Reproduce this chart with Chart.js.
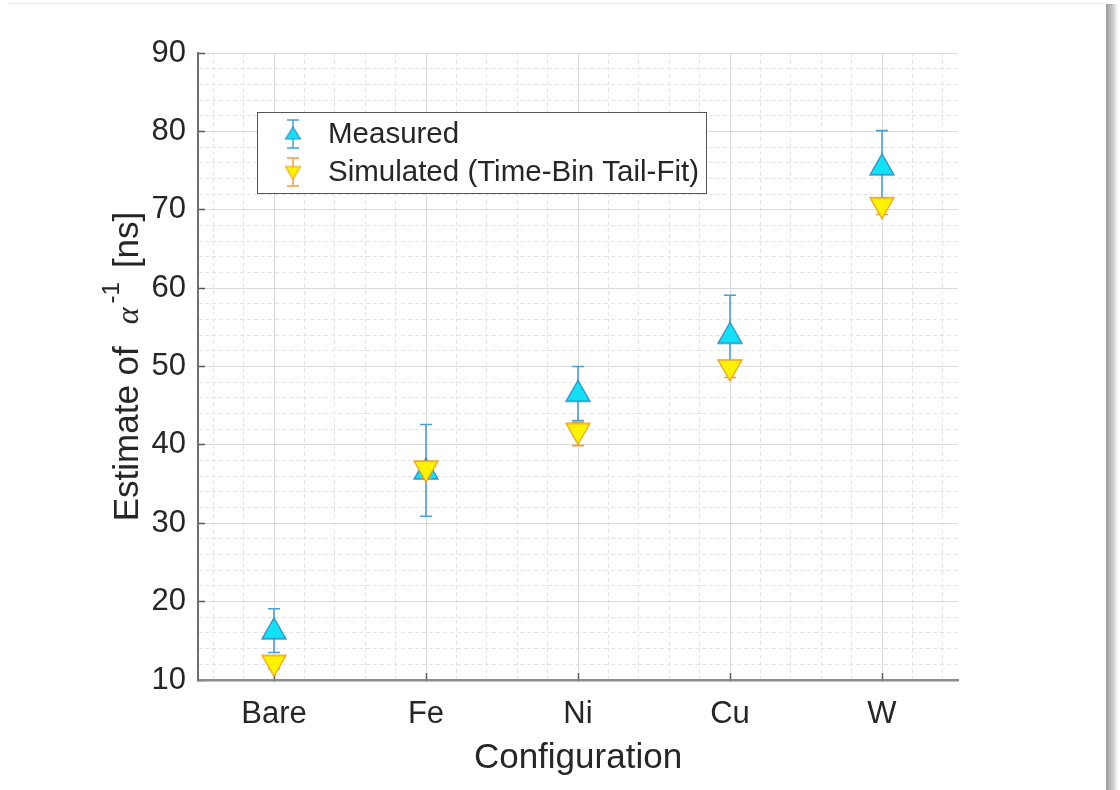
<!DOCTYPE html>
<html>
<head>
<meta charset="utf-8">
<script src="https://cdn.jsdelivr.net/npm/chart.js@4.4.1/dist/chart.umd.min.js"></script>
<style>
    html, body { margin: 0; padding: 0; background: #fff; }
    #wrap { position: relative; width: 1120px; height: 790px; overflow: hidden; }
    #topline { position: absolute; left: 8px; top: 3px; width: 1098px; height: 1px; background: #ececec; }
    #shadow { position: absolute; left: 1106px; top: 4px; width: 12px; height: 786px;
              background: linear-gradient(to right, #9a9a9a, #cfcfcf 60%, #fff); }
    canvas { position: absolute; left: 0; top: 0; }
</style>
</head>
<body>
<div id="wrap">
    <div id="topline"></div>
    <div id="shadow"></div>
    <canvas id="chart" width="1120" height="790"></canvas>
</div>
<script>
const categories = ['Bare', 'Fe', 'Ni', 'Cu', 'W'];
const measured = [16.6, 37.0, 46.9, 54.3, 75.8];
const measuredLow = [13.5, 30.9, 43.1, 50.0, 71.5];
const measuredHigh = [19.1, 42.6, 50.0, 59.1, 80.1];
const simulated = [11.8, 36.6, 41.4, 49.5, 70.2];
const simulatedErr = [0.4, 0.8, 1.5, 0.9, 0.8];
const yTicks = [10, 20, 30, 40, 50, 60, 70, 80, 90];

const TEXT = '#262626';
const FONT = '"Liberation Sans", Arial, Helvetica, sans-serif';
const MEAS_FILL = '#12e0f6';
const MEAS_EDGE = '#2a8ec8';
const MEAS_BAR = '#4a9fd6';
const SIM_FILL = '#fff200';
const SIM_EDGE = '#eea020';
const SIM_BAR = '#eda040';

// minor grid positions (not data)
const xMinor = [];
for (let v = 0.6; v < 5.45; v += 0.2) xMinor.push(Math.round(v * 10) / 10);
const yMinor = [];
for (let v = 12; v < 90; v += 2) yMinor.push(v);

function triangle(up, w, h, fill, edge, lw) {
    const c = document.createElement('canvas');
    c.width = w + 4;
    c.height = h + 4;
    const g = c.getContext('2d');
    g.beginPath();
    if (up) {
        g.moveTo(c.width / 2, 2);
        g.lineTo(c.width - 2, c.height - 2);
        g.lineTo(2, c.height - 2);
    } else {
        g.moveTo(2, 2);
        g.lineTo(c.width - 2, 2);
        g.lineTo(c.width / 2, c.height - 2);
    }
    g.closePath();
    g.fillStyle = fill;
    g.fill();
    g.lineWidth = lw;
    g.strokeStyle = edge;
    g.stroke();
    return c;
}

const upMarker = triangle(true, 24, 21, MEAS_FILL, MEAS_EDGE, 1.3);
const downMarker = triangle(false, 24, 21, SIM_FILL, SIM_EDGE, 1.3);
const upSmall = triangle(true, 15, 12, MEAS_FILL, MEAS_EDGE, 1.1);
const downSmall = triangle(false, 15, 13, SIM_FILL, SIM_EDGE, 1.1);

const errorBars = {
    id: 'errorBars',
    beforeDatasetDraw(chart, args) {
        const ds = chart.data.datasets[args.index];
        const { ctx, scales: { x, y } } = chart;
        ctx.save();
        ctx.strokeStyle = ds.barColor;
        ctx.lineWidth = 1.6;
        ds.data.forEach(p => {
            const px = x.getPixelForValue(p.x);
            const top = y.getPixelForValue(p.yMax);
            const bot = y.getPixelForValue(p.yMin);
            ctx.beginPath();
            ctx.moveTo(px, top);
            ctx.lineTo(px, bot);
            ctx.moveTo(px - 6, top);
            ctx.lineTo(px + 6, top);
            ctx.moveTo(px - 6, bot);
            ctx.lineTo(px + 6, bot);
            ctx.stroke();
        });
        ctx.restore();
    }
};

const yTitle = {
    id: 'yTitle',
    afterDraw(chart) {
        const { ctx, chartArea } = chart;
        const parts = [
            { t: 'Estimate of', f: '35px ' + FONT, dy: 0, gap: 22 },
            { t: '\u03b1', f: 'italic 32px "Liberation Serif", serif', dy: 0, gap: 4 },
            { t: '-1', f: '24px ' + FONT, dy: -19, gap: 14 },
            { t: '[ns]', f: '35px ' + FONT, dy: 0, gap: 0 }
        ];
        let total = 0;
        parts.forEach(p => {
            ctx.font = p.f;
            p.w = ctx.measureText(p.t).width;
            total += p.w + p.gap;
        });
        ctx.save();
        ctx.translate(138, (chartArea.top + chartArea.bottom) / 2);
        ctx.rotate(-Math.PI / 2);
        ctx.fillStyle = TEXT;
        ctx.textBaseline = 'alphabetic';
        ctx.textAlign = 'left';
        let cx = -total / 2;
        parts.forEach(p => {
            ctx.font = p.f;
            ctx.fillText(p.t, cx, p.dy);
            cx += p.w + p.gap;
        });
        ctx.restore();
    }
};

const boxLegend = {
    id: 'boxLegend',
    afterDraw(chart) {
        const { ctx } = chart;
        const rows = [
            { ds: chart.data.datasets[0], icon: upSmall, y: 134, bar: MEAS_BAR },
            { ds: chart.data.datasets[1], icon: downSmall, y: 172, bar: SIM_BAR }
        ];
        ctx.save();
        ctx.fillStyle = '#fff';
        ctx.fillRect(257.5, 112.5, 449, 81);
        ctx.strokeStyle = '#555';
        ctx.lineWidth = 1;
        ctx.strokeRect(257.5, 112.5, 449, 81);
        rows.forEach(r => {
            const mx = 293;
            ctx.strokeStyle = r.bar;
            ctx.lineWidth = 1.5;
            ctx.beginPath();
            ctx.moveTo(mx, r.y - 14);
            ctx.lineTo(mx, r.y + 14);
            ctx.moveTo(mx - 6, r.y - 14);
            ctx.lineTo(mx + 6, r.y - 14);
            ctx.moveTo(mx - 6, r.y + 14);
            ctx.lineTo(mx + 6, r.y + 14);
            ctx.stroke();
            ctx.drawImage(r.icon, mx - r.icon.width / 2, r.y - r.icon.height / 2 + (r.icon === downSmall ? 1 : -1));
            ctx.fillStyle = TEXT;
            ctx.font = '29.5px ' + FONT;
            ctx.textBaseline = 'middle';
            ctx.fillText(r.ds.label, 328, r.y + 1);
        });
        ctx.restore();
    }
};

new Chart(document.getElementById('chart'), {
    type: 'scatter',
    data: {
        datasets: [
            {
                label: 'Measured',
                data: measured.map((v, i) => ({ x: i + 1, y: v, yMin: measuredLow[i], yMax: measuredHigh[i] })),
                pointStyle: upMarker,
                pointRadius: 12,
                barColor: MEAS_BAR,
                order: 2
            },
            {
                label: 'Simulated (Time-Bin Tail-Fit)',
                data: simulated.map((v, i) => ({ x: i + 1, y: v, yMin: v - simulatedErr[i], yMax: v + simulatedErr[i] })),
                pointStyle: downMarker,
                pointRadius: 12,
                barColor: SIM_BAR,
                order: 1
            }
        ]
    },
    options: {
        responsive: false,
        animation: false,
        layout: { padding: { left: 0, top: 53, right: 162, bottom: 0 } },
        plugins: {
            legend: { display: false },
            tooltip: { enabled: false }
        },
        scales: {
            xMinor: {
                type: 'linear',
                position: 'bottom',
                min: 0.5,
                max: 5.5,
                afterBuildTicks: s => { s.ticks = xMinor.map(v => ({ value: v })); },
                ticks: { display: false },
                grid: { color: '#e4e4e4', drawTicks: false },
                border: { display: false, dash: [4, 3] },
                afterFit: s => { s.height = 0; }
            },
            yMinor: {
                type: 'linear',
                position: 'left',
                min: 10,
                max: 90,
                afterBuildTicks: s => { s.ticks = yMinor.map(v => ({ value: v })); },
                ticks: { display: false },
                grid: { color: '#e4e4e4', drawTicks: false },
                border: { display: false, dash: [4, 3] },
                afterFit: s => { s.width = 0; }
            },
            x: {
                type: 'linear',
                position: 'bottom',
                min: 0.5,
                max: 5.5,
                afterBuildTicks: s => { s.ticks = categories.map((c, i) => ({ value: i + 1 })); },
                ticks: {
                    callback: v => categories[v - 1],
                    color: TEXT,
                    font: { family: FONT, size: 31 },
                    padding: 23,
                    maxRotation: 0
                },
                grid: { color: '#dadada', tickLength: -7, tickColor: '#555', tickWidth: 1.5 },
                border: { color: '#8c8c8c', width: 2.5 },
                title: {
                    display: true,
                    text: 'Configuration',
                    color: TEXT,
                    font: { family: FONT, size: 35 },
                    padding: { top: 0, bottom: 11 }
                },
                afterFit: s => { s.height = 110; }
            },
            y: {
                type: 'linear',
                position: 'left',
                min: 10,
                max: 90,
                afterBuildTicks: s => { s.ticks = yTicks.map(v => ({ value: v })); },
                ticks: {
                    color: TEXT,
                    font: { family: FONT, size: 31 },
                    padding: 19
                },
                grid: { color: '#dadada', tickLength: -7, tickColor: '#555', tickWidth: 1.5 },
                border: { color: '#6e6e6e', width: 2 },
                afterFit: s => { s.width = 198; }
            }
        }
    },
    plugins: [errorBars, yTitle, boxLegend]
});
</script>
</body>
</html>
